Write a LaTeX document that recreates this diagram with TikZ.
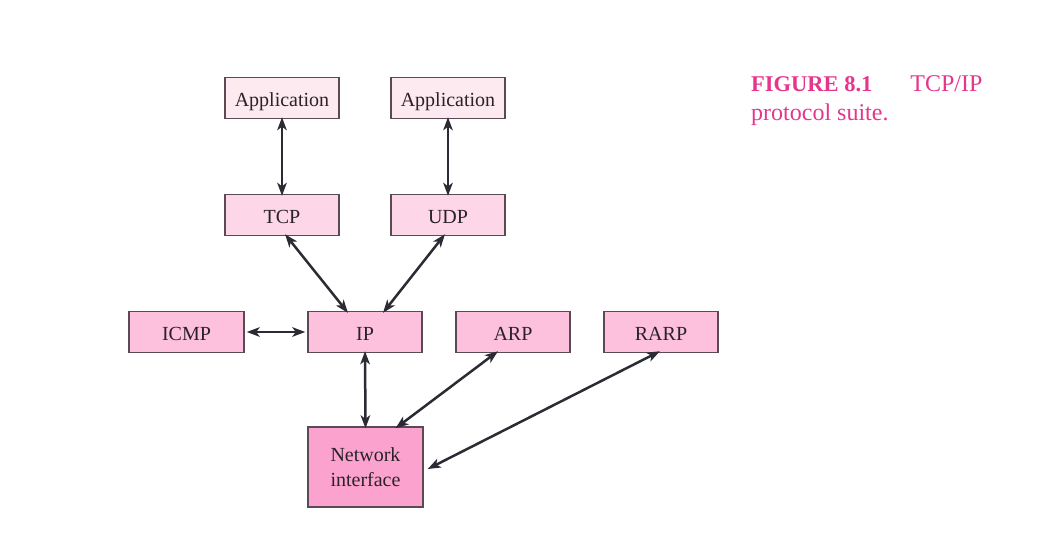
\documentclass[tikz,border=0pt]{standalone}
\usepackage{fontspec}
\setmainfont{Liberation Serif}
\usetikzlibrary{arrows.meta}
\definecolor{appfill}{HTML}{FDE9F0}
\definecolor{tpfill}{HTML}{FDD6E7}
\definecolor{ipfill}{HTML}{FDC1DD}
\definecolor{nifill}{HTML}{FBA3CE}
\definecolor{edgecol}{HTML}{5A4A55}
\definecolor{txtcol}{HTML}{2A2228}
\definecolor{capcol}{HTML}{E5358C}
\definecolor{arrcol}{HTML}{2B2B33}
\tikzset{
  box/.style={draw=edgecol, line width=1.4pt, minimum width=114pt, minimum height=41pt,
    inner sep=0pt, text=txtcol, font=\fontsize{20}{23}\selectfont, align=center},
  onel/.style={box, text height=19pt, text depth=2pt},
  conn/.style={draw=arrcol, line width=2.5pt, {Stealth[length=13pt,width=9.5pt,inset=3.5pt]}-{Stealth[length=13pt,width=9.5pt,inset=3.5pt]}}
}
\begin{document}
\begin{tikzpicture}[x=1pt,y=-1pt]
\useasboundingbox[fill=white] (0,0) rectangle (1040,547);
\node[onel, fill=appfill] (app1) at (282,98) {Application};
\node[onel, fill=appfill] (app2) at (448,98) {Application};
\node[onel, fill=tpfill] (tcp) at (282,215) {TCP};
\node[onel, fill=tpfill] (udp) at (448,215) {UDP};
\node[onel, fill=ipfill, minimum width=115pt] (icmp) at (186.5,332) {ICMP};
\node[onel, fill=ipfill] (ip) at (365,332) {IP};
\node[onel, fill=ipfill] (arp) at (513,332) {ARP};
\node[onel, fill=ipfill] (rarp) at (661,332) {RARP};
\node[box, fill=nifill, minimum width=115pt, minimum height=80pt] (ni) at (365.5,467) {Network\\[2pt]interface};
\node[anchor=base west, text=capcol, font=\fontsize{24}{29}\selectfont, align=left, inner sep=0pt] (cap) at (751,120)
  {{\fontsize{22.5}{29}\selectfont\textbf{FIGURE 8.1}}\hspace{38pt}TCP/IP\\protocol suite.};
\draw[conn] ([yshift=2pt]app1.south) -- ([yshift=-2pt]tcp.north);
\draw[conn] ([yshift=2pt]app2.south) -- ([yshift=-2pt]udp.north);
\draw[conn] ([xshift=3pt,yshift=2pt]tcp.south) -- ([xshift=-17pt,yshift=-2pt]ip.north);
\draw[conn] ([xshift=-3pt,yshift=2pt]udp.south) -- ([xshift=18pt,yshift=-2pt]ip.north);
\draw[conn] ([xshift=2pt]icmp.east) -- ([xshift=-2pt]ip.west);
\draw[conn] ([yshift=2pt]ip.south) -- ([yshift=-2pt]ni.north);
\draw[conn] ([xshift=-15pt,yshift=2pt]arp.south) -- ([xshift=30pt,yshift=-2pt]ni.north);
\draw[conn] ([xshift=-1pt,yshift=2pt]rarp.south) -- ([xshift=4pt,yshift=-2pt]ni.east);
\end{tikzpicture}
\end{document}
